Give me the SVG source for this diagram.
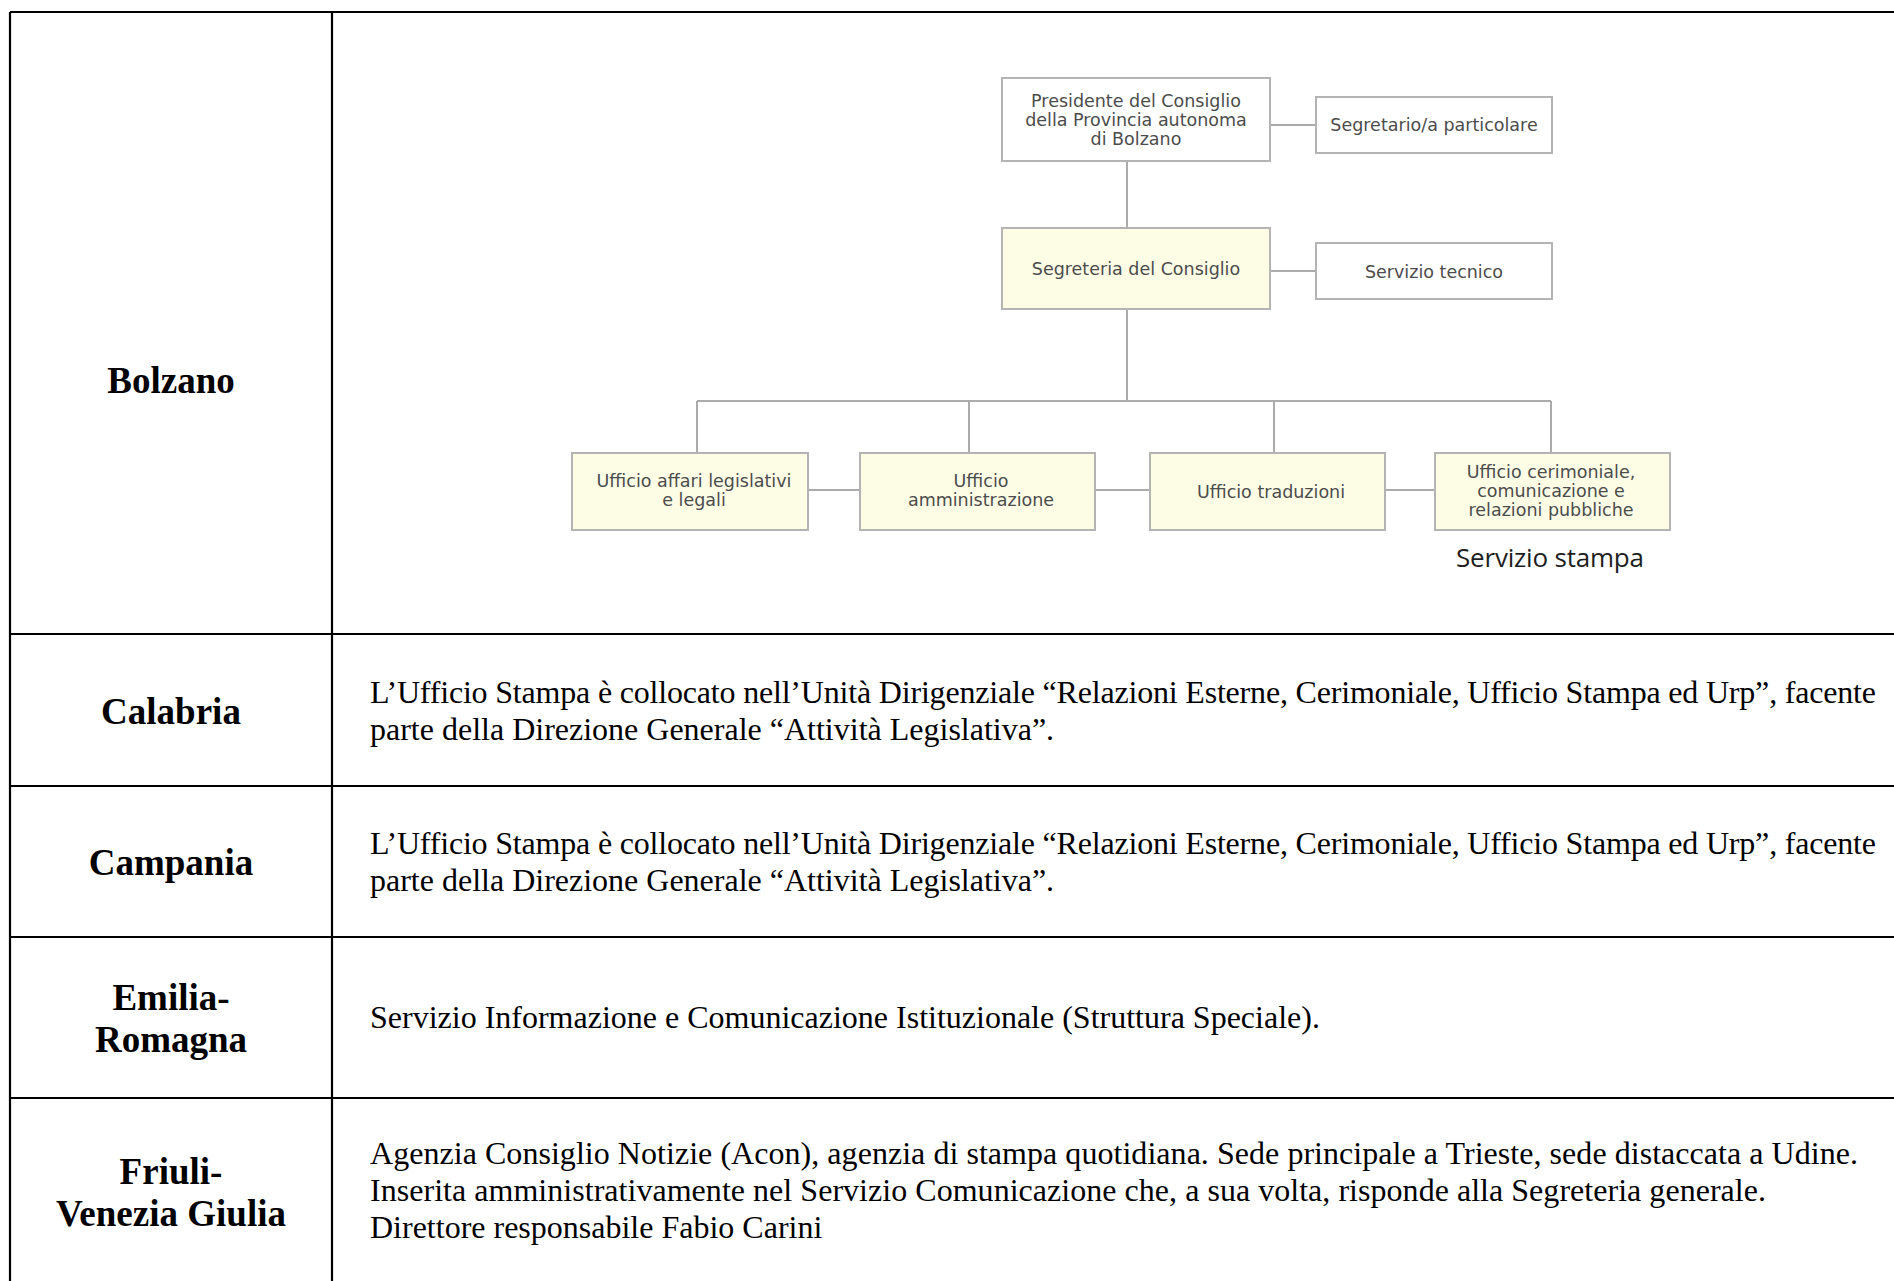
<svg xmlns="http://www.w3.org/2000/svg" width="1894" height="1281" viewBox="0 0 1894 1281">
<style>
.grid{stroke:#000;stroke-width:2.2;fill:none}
.lab{font-family:"Liberation Serif","Times New Roman",serif;font-weight:bold;font-size:37px;fill:#000;text-anchor:middle}
.body{font-family:"Liberation Serif","Times New Roman",serif;font-size:32px;fill:#000}
.box{fill:#fff;stroke:#b4b4b4;stroke-width:2}
.ybox{fill:#fdfde6;stroke:#b4b4b4;stroke-width:2}
.ot{font-family:"DejaVu Sans",Verdana,sans-serif;font-size:17.5px;fill:#4c4c4c;text-anchor:middle}
.conn{stroke:#ababab;stroke-width:2;fill:none}
.note{font-family:"Open Sans","Noto Sans",sans-serif;font-size:26px;fill:#1e1e1e;text-anchor:middle}
</style>
<rect x="0" y="0" width="1894" height="1281" fill="#fff"/>
<g id="table-grid">
<path class="grid" d="M10 12 H1894 M10 12 V1281 M332 12 V1281 M10 634 H1894 M10 786 H1894 M10 937 H1894 M10 1098 H1894"/>
</g>
<g id="row-bolzano">
<text class="lab" x="171" y="393">Bolzano</text>
</g>
<g id="row-calabria">
<text class="lab" x="171" y="724">Calabria</text>
<text class="body" x="370" y="703" textLength="1506">L’Ufficio Stampa è collocato nell’Unità Dirigenziale “Relazioni Esterne, Cerimoniale, Ufficio Stampa ed Urp”, facente</text>
<text class="body" x="370" y="740">parte della Direzione Generale “Attività Legislativa”.</text>
</g>
<g id="row-campania">
<text class="lab" x="171" y="875">Campania</text>
<text class="body" x="370" y="854" textLength="1506">L’Ufficio Stampa è collocato nell’Unità Dirigenziale “Relazioni Esterne, Cerimoniale, Ufficio Stampa ed Urp”, facente</text>
<text class="body" x="370" y="891">parte della Direzione Generale “Attività Legislativa”.</text>
</g>
<g id="row-emilia">
<text class="lab" x="171" y="1010">Emilia-</text>
<text class="lab" x="171" y="1052">Romagna</text>
<text class="body" x="370" y="1028">Servizio Informazione e Comunicazione Istituzionale (Struttura Speciale).</text>
</g>
<g id="row-friuli">
<text class="lab" x="171" y="1184">Friuli-</text>
<text class="lab" x="171" y="1226">Venezia Giulia</text>
<text class="body" x="370" y="1164" textLength="1488">Agenzia Consiglio Notizie (Acon), agenzia di stampa quotidiana. Sede principale a Trieste, sede distaccata a Udine.</text>
<text class="body" x="370" y="1201" textLength="1396">Inserita amministrativamente nel Servizio Comunicazione che, a sua volta, risponde alla Segreteria generale.</text>
<text class="body" x="370" y="1238">Direttore responsabile Fabio Carini</text>
</g>
<g id="connectors">
<path class="conn" d="M1270 125 H1316 M1127 161 V228 M1270 271 H1316 M1127 309 V401 M697 401 H1551 M697 401 V453 M969 401 V453 M1274 401 V453 M1551 401 V453 M808 490 H860 M1095 490 H1150 M1385 490 H1435"/>
</g>
<g id="node-presidente">
<rect class="box" x="1002" y="78" width="268" height="83"/>
<text class="ot" x="1136" y="107">Presidente del Consiglio</text>
<text class="ot" x="1136" y="126">della Provincia autonoma</text>
<text class="ot" x="1136" y="145">di Bolzano</text>
</g>
<g id="node-segretario">
<rect class="box" x="1316" y="97" width="236" height="56"/>
<text class="ot" x="1434" y="131">Segretario/a particolare</text>
</g>
<g id="node-segreteria">
<rect class="ybox" x="1002" y="228" width="268" height="81"/>
<text class="ot" x="1136" y="275">Segreteria del Consiglio</text>
</g>
<g id="node-servizio-tecnico">
<rect class="box" x="1316" y="243" width="236" height="56"/>
<text class="ot" x="1434" y="278">Servizio tecnico</text>
</g>
<g id="node-affari-legislativi">
<rect class="ybox" x="572" y="453" width="236" height="77"/>
<text class="ot" x="694" y="487">Ufficio affari legislativi</text>
<text class="ot" x="694" y="506">e legali</text>
</g>
<g id="node-amministrazione">
<rect class="ybox" x="860" y="453" width="235" height="77"/>
<text class="ot" x="981" y="487">Ufficio</text>
<text class="ot" x="981" y="506">amministrazione</text>
</g>
<g id="node-traduzioni">
<rect class="ybox" x="1150" y="453" width="235" height="77"/>
<text class="ot" x="1271" y="498">Ufficio traduzioni</text>
</g>
<g id="node-cerimoniale">
<rect class="ybox" x="1435" y="453" width="235" height="77"/>
<text class="ot" x="1551" y="478">Ufficio cerimoniale,</text>
<text class="ot" x="1551" y="497">comunicazione e</text>
<text class="ot" x="1551" y="516">relazioni pubbliche</text>
<text class="note" x="1550" y="567" textLength="188">Servizio stampa</text>
</g>
</svg>
